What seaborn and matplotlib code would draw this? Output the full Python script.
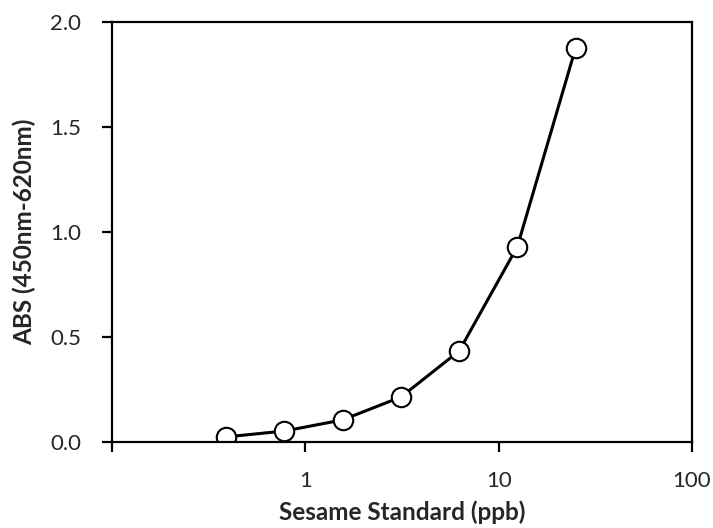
import pandas as pd
import matplotlib.pyplot as plt
import seaborn as sns

# standard concentrations (ppb) and absorbance
conc = [0.39, 0.78, 1.56, 3.125, 6.25, 12.5, 25]
absorb = [0.024, 0.052, 0.105, 0.214, 0.433, 0.93, 1.875]
xticks = [0.1, 1, 10, 100]
xticklabels = ["", "1", "10", "100"]
yticks = [0.0, 0.5, 1.0, 1.5, 2.0]

df = pd.DataFrame({"conc": conc, "abs": absorb})

sns.set_style("white")
plt.rcParams["font.family"] = ["Lato", "DejaVu Sans"]

fig = plt.figure(figsize=(7.13, 5.28), dpi=100)
ax = fig.add_axes([0.157, 0.163, 0.8135, 0.7955])

sns.lineplot(x="conc", y="abs", data=df, ax=ax, color="black", linewidth=2.2,
             marker="o", markersize=14, markerfacecolor="white",
             markeredgecolor="black", markeredgewidth=1.5)

ax.set_xscale("log")
ax.set_xlim(0.1, 100)
ax.set_ylim(0, 2.0)
ax.set_xticks(xticks)
ax.set_xticklabels(xticklabels)
ax.minorticks_off()
ax.set_yticks(yticks)
ax.set_yticklabels([f"{v:.1f}" for v in yticks])

for s in ax.spines.values():
    s.set_color("black")
    s.set_linewidth(1.6)

ax.tick_params(axis="x", direction="out", length=7, width=1.6, color="black",
               labelsize=16, pad=14, bottom=True)
ax.tick_params(axis="y", direction="out", length=7, width=1.6, color="black",
               labelsize=16, pad=15, left=True)

ax.set_xlabel("Sesame Standard (ppb)", fontsize=17.5, fontweight="bold", labelpad=7)
ax.set_ylabel("ABS (450nm-620nm)", fontsize=17.5, fontweight="bold", labelpad=10)

fig.savefig("out.png", dpi=100)
